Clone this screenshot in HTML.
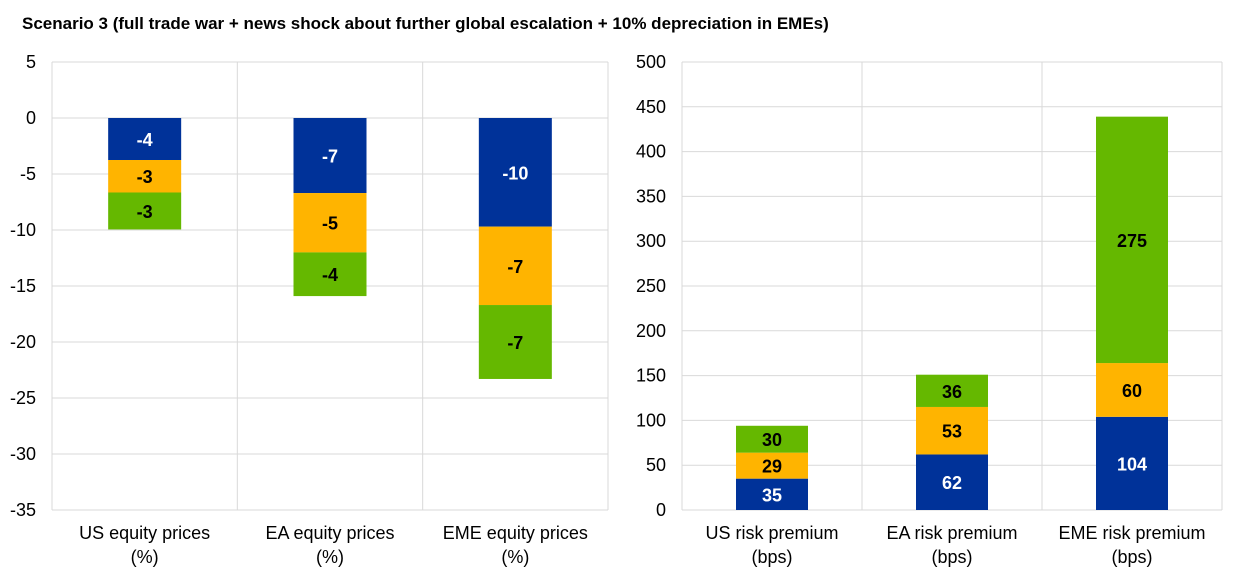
<!DOCTYPE html>
<html><head><meta charset="utf-8"><style>
body{margin:0;background:#fff;width:1240px;height:580px;overflow:hidden;font-family:"Liberation Sans",Arial,sans-serif}
</style></head><body>
<svg id="c" width="1240" height="580" xmlns="http://www.w3.org/2000/svg" font-family="Liberation Sans, Arial, sans-serif">
<text x="22" y="29" font-size="17" font-weight="bold" fill="#000">Scenario 3 (full trade war + news shock about further global escalation + 10% depreciation in EMEs)</text>
</svg>
<script>
const leftCats=[["US equity prices","(%)"],["EA equity prices","(%)"],["EME equity prices","(%)"]];
const leftBlue=[-3.75,-6.7,-9.7];
const leftOrange=[-2.9,-5.3,-7.0];
const leftGreen=[-3.3,-3.9,-6.6];
const leftTicks=[5,0,-5,-10,-15,-20,-25,-30,-35];
const rightCats=[["US risk premium","(bps)"],["EA risk premium","(bps)"],["EME risk premium","(bps)"]];
const rightBlue=[35,62,104];
const rightOrange=[29,53,60];
const rightGreen=[30,36,275];
const rightTicks=[0,50,100,150,200,250,300,350,400,450,500];
const COLORS=["#003299","#FFB400","#65B800"];
const TXT=["#fff","#000","#000"];
const svg=document.getElementById('c');
const NS="http://www.w3.org/2000/svg";
function mk(t,a){const e=document.createElementNS(NS,t);for(const k in a)e.setAttribute(k,a[k]);svg.appendChild(e);return e;}
function panel(p){
  const y=v=>p.y0+(p.vmax-v)/(p.vmax-p.vmin)*(p.y1-p.y0);
  const cw=(p.x1-p.x0)/p.cats.length;
  p.ticks.forEach(t=>{
    const l=mk('line',{x1:p.x0,x2:p.x1,y1:y(t),y2:y(t),stroke:'#d9d9d9','stroke-width':1});
    
    
    const tx=mk('text',{x:p.x0-16,y:y(t)+6,'font-size':18,'text-anchor':'end',fill:'#000'});
    tx.textContent=t;
    
    
  });
  for(let i=0;i<=p.cats.length;i++){
    const l=mk('line',{x1:p.x0+i*cw,x2:p.x0+i*cw,y1:p.y0,y2:p.y1,stroke:'#d9d9d9','stroke-width':1});
    
    
  }
  const series=[p.blue,p.orange,p.green];
  p.cats.forEach((c,i)=>{
    let base=0;
    const bx=p.x0+i*cw+cw/2-p.bw/2;
    series.forEach((s,k)=>{
      const v=s[i];const top=base+v;
      const ya=y(Math.max(base,top)),yb=y(Math.min(base,top));
      const r=mk('rect',{x:bx,y:ya,width:p.bw,height:yb-ya,fill:COLORS[k]});
      
      
      const t=mk('text',{x:bx+p.bw/2,y:(ya+yb)/2+7,'font-size':18,'font-weight':'bold','text-anchor':'middle',fill:TXT[k]});
      t.textContent=Math.round(v);
      
      
      base=top;
    });
    c.forEach((line,j)=>{
      const t=mk('text',{x:p.x0+i*cw+cw/2,y:539+j*24,'font-size':18,'text-anchor':'middle',fill:'#000'});
      t.textContent=line;
      
      
    });
  });
}
panel({id:'equity',x0:52,x1:608,y0:62,y1:510,vmax:5,vmin:-35,bw:73,cats:leftCats,blue:leftBlue,orange:leftOrange,green:leftGreen,ticks:leftTicks});
panel({id:'risk',x0:682,x1:1222,y0:62,y1:510,vmax:500,vmin:0,bw:72,cats:rightCats,blue:rightBlue,orange:rightOrange,green:rightGreen,ticks:rightTicks});
</script>
</body></html>
